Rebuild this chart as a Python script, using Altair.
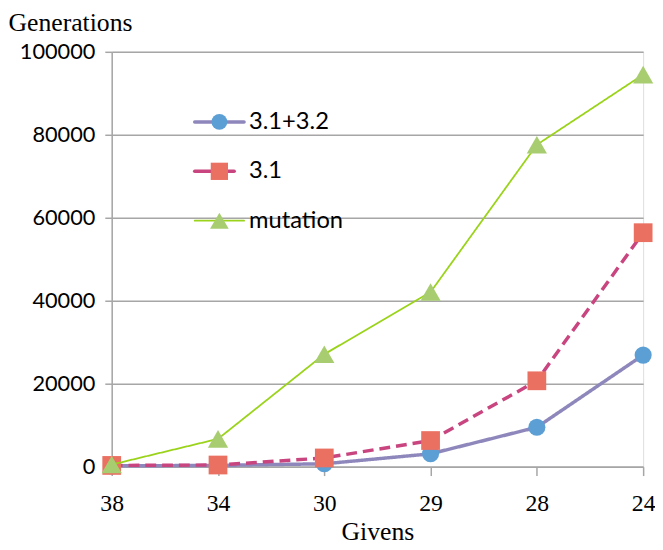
import altair as alt
import pandas as pd

givens = ["38", "34", "30", "29", "28", "24"]
series_names = ["3.1+3.2", "3.1", "mutation"]
combo = [200, 300, 700, 3100, 9500, 26900]
only31 = [300, 400, 2100, 6300, 20700, 56400]
mutation = [500, 6700, 27100, 42100, 77600, 94500]

line_colors = ["#8E87BC", "#C9457F", "#9AD31A"]
marker_colors = ["#5B9FD5", "#EA7062", "#A8CD70"]
shapes = ["circle", "square", "triangle-up"]
dashes = [[1, 0], [11, 6], [1, 0]]
widths = [3.5, 3.5, 1.8]
sizes = [300, 360, 420]

rows = []
for name, vals in zip(series_names, [combo, only31, mutation]):
    for g, v in zip(givens, vals):
        rows.append({"givens": g, "value": v, "series": name})
df = pd.DataFrame(rows)

xscale = alt.Scale(domain=givens, type="point", padding=0)
yscale = alt.Scale(domain=[0, 100000], nice=False)

x_axis = alt.Axis(
    title="Givens", labelFont="Liberation Serif", labelFontSize=24,
    labelColor="black", titleFont="Liberation Serif", titleFontSize=26,
    titleFontWeight="normal", titleColor="black", titlePadding=4,
    tickColor="#A6A6A6", tickSize=9, tickWidth=1.5, domainColor="#A6A6A6",
    domainWidth=1.5, labelPadding=16, labelAngle=0, grid=False,
)
y_axis = alt.Axis(
    title="Generations", values=[0, 20000, 40000, 60000, 80000, 100000],
    format="d", labelFont="Lato", labelFontSize=22, labelColor="black",
    titleFont="Liberation Serif", titleFontSize=26, titleFontWeight="normal",
    titleColor="black", titleAngle=0, titleAlign="left", titleBaseline="alphabetic",
    titleX=-105, titleY=-22, tickColor="#A6A6A6", tickSize=7, tickWidth=1.5,
    domainColor="#A6A6A6", domainWidth=1.5, labelPadding=10,
    gridColor="#A6A6A6", gridWidth=1.5, grid=True,
)

data_layers = []
for i, name in enumerate(series_names):
    base = alt.Chart(df[df["series"] == name])
    enc_x = alt.X("givens:N", scale=xscale, sort=givens, axis=x_axis)
    enc_y = alt.Y("value:Q", scale=yscale, axis=y_axis)
    line = base.mark_line(color=line_colors[i], strokeWidth=widths[i],
                          strokeDash=dashes[i]).encode(x=enc_x, y=enc_y)
    pts = base.mark_point(shape=shapes[i], filled=True, opacity=1,
                          color=marker_colors[i], size=sizes[i]).encode(x=enc_x, y=enc_y)
    data_layers += [line, pts]
main = alt.layer(*data_layers)

# legend built from the series names
leg = pd.DataFrame({"series": series_names})
leg_y = alt.Y("series:N", scale=alt.Scale(domain=series_names, type="point",
                                          range=[71, 171], padding=0), axis=None)
line_ends = [134, 124, 134]
leg_layers = []
for i, name in enumerate(series_names):
    d = alt.Chart(leg[leg["series"] == name])
    leg_layers.append(d.mark_rule(color=line_colors[i], strokeWidth=widths[i],
                                  strokeCap="round").encode(
        x=alt.value(84), x2=alt.value(line_ends[i]), y=leg_y))
    leg_layers.append(d.mark_point(shape=shapes[i], filled=True, opacity=1,
                                   color=marker_colors[i], size=sizes[i] * 0.85).encode(
        x=alt.value(109), y=leg_y))
    leg_layers.append(d.mark_text(align="left", baseline="middle", font="Lato",
                                  fontSize=24, color="black").encode(
        x=alt.value(139), y=leg_y, text="series:N"))
legend = alt.layer(*leg_layers)

chart = alt.layer(main, legend).resolve_scale(y="independent").properties(
    width=538, height=420,
    autosize=alt.AutoSizeParams(type="none"),
    padding={"left": 105, "top": 41, "right": 12, "bottom": 81},
).configure_view(stroke=None).configure(background="white")

chart.save("out.html", embed_options={"renderer": "svg", "actions": False})
